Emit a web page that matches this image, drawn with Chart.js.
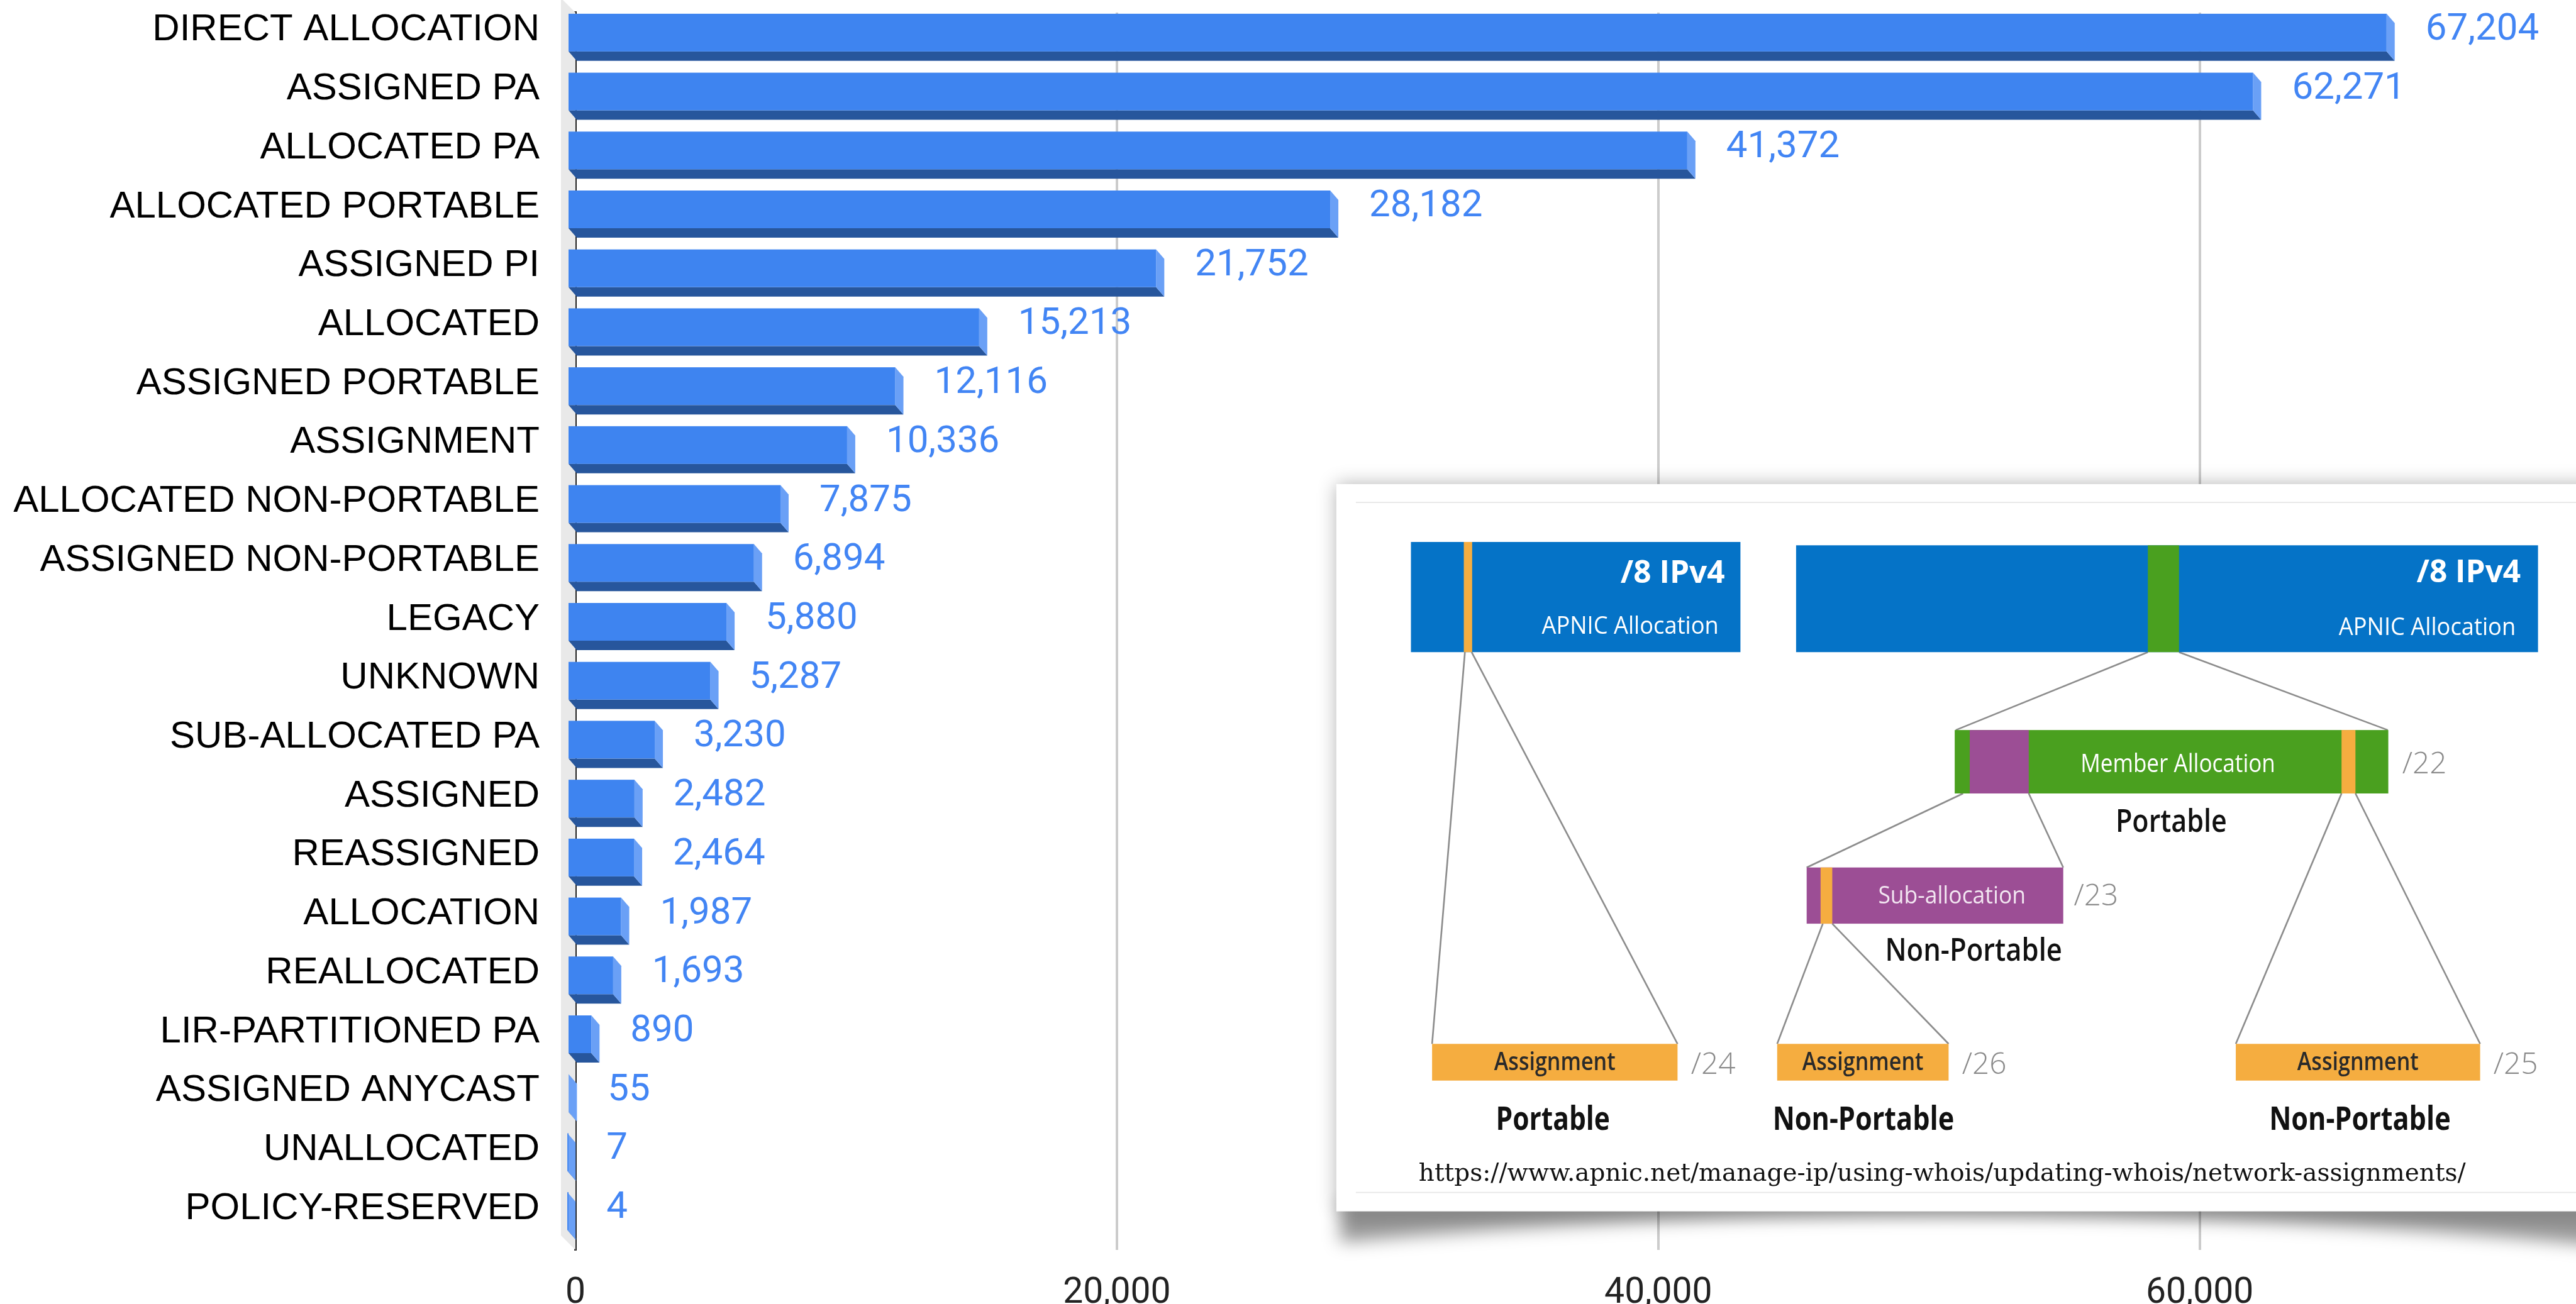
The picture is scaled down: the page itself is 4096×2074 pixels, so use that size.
<!DOCTYPE html>
<html>
<head>
<meta charset="utf-8">
<script src="https://cdn.jsdelivr.net/npm/chart.js@4.4.1/dist/chart.umd.min.js"></script>
<style>
  html, body { margin: 0; padding: 0; background: #ffffff; }
  canvas { display: block; }
</style>
</head>
<body>
<canvas id="typesChart" width="4096" height="2074"></canvas>
<script>
// Chart data
const categories = [
  'DIRECT ALLOCATION', 'ASSIGNED PA', 'ALLOCATED PA', 'ALLOCATED PORTABLE', 'ASSIGNED PI',
  'ALLOCATED', 'ASSIGNED PORTABLE', 'ASSIGNMENT', 'ALLOCATED NON-PORTABLE', 'ASSIGNED NON-PORTABLE',
  'LEGACY', 'UNKNOWN', 'SUB-ALLOCATED PA', 'ASSIGNED', 'REASSIGNED', 'ALLOCATION',
  'REALLOCATED', 'LIR-PARTITIONED PA', 'ASSIGNED ANYCAST', 'UNALLOCATED', 'POLICY-RESERVED'
];
const counts = [
  67204, 62271, 41372, 28182, 21752,
  15213, 12116, 10336, 7875, 6894,
  5880, 5287, 3230, 2482, 2464, 1987,
  1693, 890, 55, 7, 4
];
const xTicks = [0, 20000, 40000, 60000];
const xMax = 73900;

const S = 0.885;          // reference -> window scale
const DX = 13, DY = 15;   // 3d depth of the bars
const WALL = 23;          // depth of the left wall

// 3d look for the bars + left wall + value labels
const bar3d = {
  id: 'bar3d',
  beforeDatasetsDraw(chart) {
    const { ctx, chartArea: a } = chart;
    ctx.save();
    ctx.fillStyle = '#e9e9e9';
    ctx.beginPath();
    ctx.moveTo(a.left, a.top);
    ctx.lineTo(a.left, a.bottom);
    ctx.lineTo(a.left - WALL, a.bottom - WALL);
    ctx.lineTo(a.left - WALL, a.top - WALL);
    ctx.closePath();
    ctx.fill();
    ctx.restore();
  },
  afterDatasetsDraw(chart) {
    const ctx = chart.ctx;
    const meta = chart.getDatasetMeta(0);
    ctx.save();
    meta.data.forEach((bar, i) => {
      const x0 = bar.base, x1 = bar.x;
      const y0 = bar.y - bar.height / 2, y1 = bar.y + bar.height / 2;
      // bottom face
      ctx.fillStyle = '#27569c';
      ctx.beginPath();
      ctx.moveTo(x0 - DX, y1 - DY);
      ctx.lineTo(x1 - DX, y1 - DY);
      ctx.lineTo(x1, y1);
      ctx.lineTo(x0, y1);
      ctx.closePath();
      ctx.fill();
      // right face
      ctx.fillStyle = '#6aa0f6';
      ctx.beginPath();
      ctx.moveTo(x1 - DX, y0 - DY);
      ctx.lineTo(x1, y0);
      ctx.lineTo(x1, y1);
      ctx.lineTo(x1 - DX, y1 - DY);
      ctx.closePath();
      ctx.fill();
      // front face
      ctx.fillStyle = '#3e84f0';
      ctx.fillRect(x0 - DX, y0 - DY, x1 - x0, y1 - y0);
      // value label
      ctx.fillStyle = '#4285f4';
      ctx.font = '60px Roboto';
      ctx.textAlign = 'left';
      ctx.textBaseline = 'middle';
      ctx.fillText(counts[i].toLocaleString('en-US'), x1 + 49, bar.y - 19);
    });
    ctx.restore();
  }
};

// the APNIC diagram pasted over the chart (drawn in reference pixels)
function txt(ctx, s, x, y, font, color, align, maxW) {
  ctx.font = font;
  ctx.fillStyle = color;
  ctx.textAlign = align;
  ctx.textBaseline = 'alphabetic';
  if (maxW) ctx.fillText(s, x, y, maxW); else ctx.fillText(s, x, y);
}
function seg(ctx, x1, y1, x2, y2) {
  ctx.beginPath();
  ctx.moveTo(x1, y1);
  ctx.lineTo(x2, y2);
  ctx.stroke();
}

const inset = {
  id: 'inset',
  afterDraw(chart) {
    const ctx = chart.ctx;
    const BLUE = '#0573c7', GREEN = '#4aa01f', PURPLE = '#9c4e95', ORANGE = '#f5ad40', GREY = '#8a8a8a';
    ctx.save();
    ctx.scale(S, S);

    // curled shadow under the card
    ctx.save();
    ctx.filter = 'blur(14px)';
    ctx.fillStyle = 'rgba(0,0,0,0.42)';
    ctx.beginPath();
    ctx.moveTo(2408, 2160);
    ctx.lineTo(4700, 2160);
    ctx.lineTo(4700, 2240);
    ctx.quadraticCurveTo(3530, 2130, 2408, 2232);
    ctx.closePath();
    ctx.fill();
    ctx.restore();

    // card
    ctx.save();
    ctx.shadowColor = 'rgba(0,0,0,0.3)';
    ctx.shadowBlur = 28;
    ctx.fillStyle = '#ffffff';
    ctx.fillRect(2401, 870, 2400, 1307);
    ctx.restore();
    ctx.strokeStyle = '#e6e6e6';
    ctx.lineWidth = 2;
    seg(ctx, 2436, 903, 4700, 903);
    seg(ctx, 2436, 2143, 4700, 2143);

    // connector lines
    ctx.strokeStyle = '#8c8c8c';
    ctx.lineWidth = 3;
    seg(ctx, 2632, 1172, 2573, 1876);
    seg(ctx, 2644, 1172, 3014, 1876);
    seg(ctx, 3859, 1172, 3514, 1312);
    seg(ctx, 3915, 1172, 4290, 1312);
    seg(ctx, 3527, 1426, 3246, 1559);
    seg(ctx, 3645, 1426, 3707, 1559);
    seg(ctx, 4207, 1426, 4017, 1876);
    seg(ctx, 4232, 1426, 4456, 1876);
    seg(ctx, 3275, 1660, 3193, 1876);
    seg(ctx, 3292, 1660, 3501, 1876);

    // /8 blocks
    ctx.fillStyle = BLUE;
    ctx.fillRect(2535, 974, 592, 198);
    ctx.fillRect(3227, 980, 1333, 192);
    ctx.fillStyle = ORANGE;
    ctx.fillRect(2630, 974, 15, 198);
    ctx.fillStyle = GREEN;
    ctx.fillRect(3859, 980, 56, 192);
    txt(ctx, '/8 IPv4', 3099, 1048, '700 56px "Open Sans"', '#ffffff', 'right', 205);
    txt(ctx, 'APNIC Allocation', 3088, 1139, '43px "Open Sans"', '#ffffff', 'right', 318);
    txt(ctx, '/8 IPv4', 4529, 1046, '700 56px "Open Sans"', '#ffffff', 'right', 205);
    txt(ctx, 'APNIC Allocation', 4520, 1141, '43px "Open Sans"', '#ffffff', 'right', 318);

    // member allocation
    ctx.fillStyle = GREEN;
    ctx.fillRect(3512, 1312, 779, 114);
    ctx.fillStyle = PURPLE;
    ctx.fillRect(3539, 1312, 106, 114);
    ctx.fillStyle = ORANGE;
    ctx.fillRect(4207, 1312, 25, 114);
    txt(ctx, 'Member Allocation', 3913, 1388, '46px "Open Sans"', '#ffffff', 'center', 350);
    txt(ctx, '/22', 4316, 1390, '300 54px "Open Sans"', GREY, 'left', 84);
    txt(ctx, 'Portable', 3901, 1495, '600 58px "Open Sans"', '#111111', 'center', 200);

    // sub-allocation
    ctx.fillStyle = PURPLE;
    ctx.fillRect(3246, 1559, 461, 101);
    ctx.fillStyle = ORANGE;
    ctx.fillRect(3271, 1559, 21, 101);
    txt(ctx, 'Sub-allocation', 3507, 1624, '43px "Open Sans"', '#f2e6f1', 'center', 265);
    txt(ctx, '/23', 3726, 1627, '300 54px "Open Sans"', GREY, 'left', 84);
    txt(ctx, 'Non-Portable', 3546, 1727, '600 58px "Open Sans"', '#111111', 'center', 318);

    // assignments
    const asg = [[2573, 441, '/24'], [3193, 308, '/26'], [4017, 439, '/25']];
    asg.forEach(([x, w, pfx]) => {
      ctx.fillStyle = ORANGE;
      ctx.fillRect(x, 1876, w, 66);
      txt(ctx, 'Assignment', x + w / 2, 1923, '600 44px "Open Sans"', '#2a2a2a', 'center', 218);
      txt(ctx, pfx, x + w + 24, 1930, '300 54px "Open Sans"', GREY, 'left', 86);
    });
    txt(ctx, 'Portable', 2790, 2030, '700 58px "Open Sans"', '#111111', 'center', 205);
    txt(ctx, 'Non-Portable', 3348, 2030, '700 58px "Open Sans"', '#111111', 'center', 326);
    txt(ctx, 'Non-Portable', 4240, 2030, '700 58px "Open Sans"', '#111111', 'center', 326);

    // source url
    txt(ctx, 'https://www.apnic.net/manage-ip/using-whois/updating-whois/network-assignments/',
      2549, 2122, '44px "DejaVu Serif"', '#111111', 'left', 1968);

    ctx.restore();
  }
};

const ctx1 = document.getElementById('typesChart');

const typesChart = new Chart(ctx1, {
  type: 'bar',
  data: {
    labels: categories,
    datasets: [{
      label: 'Objects',
      data: counts,
      backgroundColor: 'rgba(0,0,0,0)', // faces are painted by the bar3d plugin
      borderWidth: 0,
      barPercentage: 0.64,
      categoryPercentage: 1
    }]
  },
  options: {
    indexAxis: 'y',
    responsive: false,
    animation: false,
    devicePixelRatio: 1,
    layout: { padding: { top: 20, left: 0, right: 0, bottom: 0 } },
    plugins: {
      legend: { display: false },
      tooltip: { enabled: false }
    },
    scales: {
      x: {
        type: 'linear',
        min: 0,
        max: xMax,
        grid: {
          color: (c) => (c.tick && c.tick.value === 0 ? 'rgba(0,0,0,0)' : '#cccccc'),
          lineWidth: 4,
          drawTicks: false
        },
        border: { display: false },
        ticks: {
          padding: 36,
          color: '#222222',
          font: { family: 'Roboto', size: 57 }
        },
        afterBuildTicks: (s) => { s.ticks = xTicks.map(v => ({ value: v })); },
        afterFit: (s) => { s.height = 86; s.paddingLeft = 0; s.paddingRight = 0; }
      },
      y: {
        grid: { display: false, drawTicks: false },
        border: { display: true, color: '#222222', width: 4 },
        ticks: {
          autoSkip: false,
          padding: 57,
          labelOffset: -19,
          color: '#000000',
          font: { family: '"Liberation Sans", Arial, sans-serif', size: 60 }
        },
        afterFit: (s) => { s.width = 915; s.paddingTop = 0; s.paddingBottom = 0; }
      }
    }
  },
  plugins: [bar3d, inset]
});
</script>
</body>
</html>
